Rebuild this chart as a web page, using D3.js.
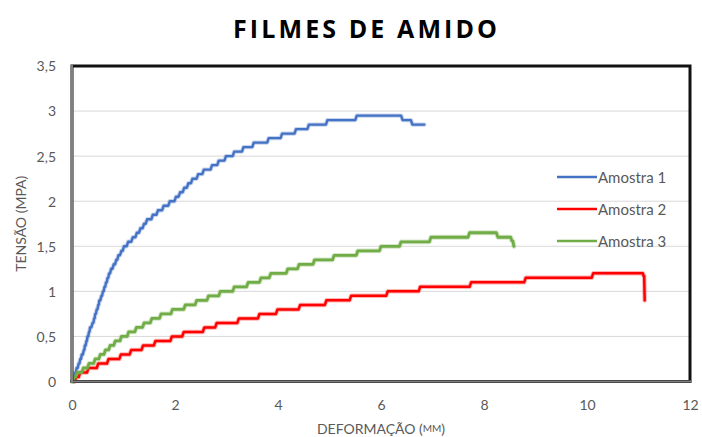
<!DOCTYPE html>
<html>
<head>
<meta charset="utf-8">
<script src="https://cdn.jsdelivr.net/npm/d3@7"></script>
<style>
  html, body { margin: 0; padding: 0; background: #ffffff; }
  svg { display: block; }
</style>
</head>
<body>
<svg id="chart" width="702" height="437"></svg>
<script>
// ---------------- DATA ----------------
const chartTitle = "FILMES DE AMIDO";
const xAxisTitleMain = "DEFORMAÇÃO (";
const xAxisTitleUnit = "MM";
const yAxisTitle = "TENSÃO (MPA)";

const xTicks = [0, 2, 4, 6, 8, 10, 12];
const xTickLabels = ["0", "2", "4", "6", "8", "10", "12"];
const yTicks = [0, 0.5, 1, 1.5, 2, 2.5, 3, 3.5];
const yTickLabels = ["0", "0,5", "1", "1,5", "2", "2,5", "3", "3,5"];

const seriesNames = ["Amostra 1", "Amostra 2", "Amostra 3"];
const seriesColors = ["#4472C4", "#FF0000", "#70AD47"];

// Amostra 1 (blue): x where each stress level is reached
const amostra1X = [0.01,
  0.03, 0.06, 0.09, 0.13, 0.16, 0.19, 0.23, 0.25, 0.28, 0.30,
  0.33, 0.35, 0.40, 0.43, 0.45, 0.48, 0.51, 0.53, 0.57, 0.60,
  0.63, 0.66, 0.69, 0.72, 0.76, 0.81, 0.86, 0.90, 0.96, 1.01,
  1.09, 1.18, 1.26, 1.33, 1.40, 1.46, 1.57, 1.67, 1.78, 1.90,
  2.02, 2.10, 2.18, 2.26, 2.34, 2.45, 2.56, 2.72, 2.85, 2.99,
  3.15, 3.33, 3.53, 3.82, 4.08, 4.35, 4.60, 4.96, 5.53,
  6.42, 6.61, 6.84];
const amostra1Y = [0,
  0.05, 0.10, 0.15, 0.20, 0.25, 0.30, 0.35, 0.40, 0.45, 0.50,
  0.55, 0.60, 0.65, 0.70, 0.75, 0.80, 0.85, 0.90, 0.95, 1.00,
  1.05, 1.10, 1.15, 1.20, 1.25, 1.30, 1.35, 1.40, 1.45, 1.50,
  1.55, 1.60, 1.65, 1.70, 1.75, 1.80, 1.85, 1.90, 1.95, 2.00,
  2.05, 2.10, 2.15, 2.20, 2.25, 2.30, 2.35, 2.40, 2.45, 2.50,
  2.55, 2.60, 2.65, 2.70, 2.75, 2.80, 2.85, 2.90, 2.95,
  2.90, 2.85, 2.85];

// Amostra 2 (red)
const amostra2X = [0.04, 0.08,
  0.16, 0.32, 0.51, 0.71, 0.95, 1.15, 1.38, 1.62, 1.94, 2.17,
  2.57, 2.81, 3.24, 3.64, 3.99, 4.43, 4.94, 5.42, 6.13, 6.76,
  7.75, 8.81, 10.12,
  11.07, 11.10, 11.12];
const amostra2Y = [0, 0.05,
  0.10, 0.15, 0.20, 0.25, 0.30, 0.35, 0.40, 0.45, 0.50, 0.55,
  0.60, 0.65, 0.70, 0.75, 0.80, 0.85, 0.90, 0.95, 1.00, 1.05,
  1.10, 1.15, 1.20,
  1.20, 1.17, 0.90];

// Amostra 3 (green)
const amostra3X = [0,
  0.04, 0.10, 0.22, 0.33, 0.45, 0.55, 0.65, 0.74, 0.84, 0.96,
  1.10, 1.25, 1.40, 1.55, 1.73, 1.95, 2.20, 2.42, 2.65, 2.88,
  3.15, 3.42, 3.67, 3.86, 4.19, 4.41, 4.71, 5.09, 5.55, 6.00,
  6.39, 6.97, 7.72,
  8.27, 8.50, 8.54, 8.58];
const amostra3Y = [0,
  0.05, 0.10, 0.15, 0.20, 0.25, 0.30, 0.35, 0.40, 0.45, 0.50,
  0.55, 0.60, 0.65, 0.70, 0.75, 0.80, 0.85, 0.90, 0.95, 1.00,
  1.05, 1.10, 1.15, 1.20, 1.25, 1.30, 1.35, 1.40, 1.45, 1.50,
  1.55, 1.60, 1.65,
  1.60, 1.60, 1.56, 1.50];

const seriesX = [amostra1X, amostra2X, amostra3X];
const seriesY = [amostra1Y, amostra2Y, amostra3Y];

// ---------------- LAYOUT ----------------
const W = 702, H = 437;
const plot = { left: 72, right: 690, top: 66, bottom: 381.5 };
const textGray = "#595959";
const labelFont = "Lato, 'Open Sans', sans-serif";

const svg = d3.select("#chart");
svg.append("rect").attr("width", W).attr("height", H).attr("fill", "#fff");

const x = d3.scaleLinear().domain([0, 12]).range([plot.left, plot.right]);
const y = d3.scaleLinear().domain([0, 3.5]).range([plot.bottom, plot.top]);

// Gridlines
svg.append("g").selectAll("line")
  .data(yTicks.filter(v => v > 0 && v < 3.5))
  .join("line")
  .attr("x1", plot.left).attr("x2", plot.right)
  .attr("y1", d => y(d)).attr("y2", d => y(d))
  .attr("stroke", "#d9d9d9").attr("stroke-width", 1);

// Series as step lines (each level reached via a short rise)
function stepPoints(xs, ys) {
  const pts = [[xs[0], ys[0]]];
  for (let i = 1; i < xs.length; i++) {
    const r = Math.min(0.03, (xs[i] - xs[i - 1]) / 2);
    pts.push([xs[i] - r, ys[i - 1]]);
    pts.push([xs[i], ys[i]]);
  }
  return pts;
}
const line = d3.line().x(d => x(d[0])).y(d => y(d[1]));

const seriesWidths = [2.4, 2.5, 2.8];
const gSeries = svg.append("g");
seriesNames.forEach((name, i) => {
  const pts = stepPoints(seriesX[i], seriesY[i]);
  gSeries.append("path").attr("d", line(pts))
    .attr("fill", "none").attr("stroke", seriesColors[i])
    .attr("stroke-opacity", 0.3).attr("stroke-width", seriesWidths[i] + 2)
    .attr("stroke-linejoin", "round").attr("stroke-linecap", "round");
  gSeries.append("path").attr("d", line(pts))
    .attr("fill", "none").attr("stroke", seriesColors[i])
    .attr("stroke-width", seriesWidths[i])
    .attr("stroke-linejoin", "round").attr("stroke-linecap", "round");
});

// Plot area border (black) + axis lines (gray) on left and bottom
svg.append("rect")
  .attr("x", plot.left).attr("y", plot.top)
  .attr("width", plot.right - plot.left).attr("height", plot.bottom - plot.top)
  .attr("fill", "none").attr("stroke", "#111").attr("stroke-width", 3);
svg.append("line")
  .attr("x1", plot.left).attr("x2", plot.right + 1.5)
  .attr("y1", plot.bottom).attr("y2", plot.bottom)
  .attr("stroke", "#808080").attr("stroke-width", 2);
svg.append("line")
  .attr("x1", plot.left).attr("x2", plot.left)
  .attr("y1", plot.top - 1.5).attr("y2", plot.bottom + 1.5)
  .attr("stroke", "#808080").attr("stroke-width", 2);

// Axes (labels only)
const xAxis = d3.axisBottom(x).tickValues(xTicks)
  .tickFormat((d, i) => xTickLabels[i]).tickSize(0).tickPadding(0);
const gx = svg.append("g").attr("transform", `translate(0,${plot.bottom})`).call(xAxis);
gx.select(".domain").remove();
gx.selectAll("text").attr("y", 405 - plot.bottom).attr("dy", "0.35em")
  .attr("fill", textGray).style("font-family", labelFont).style("font-size", "14px");

const yAxis = d3.axisLeft(y).tickValues(yTicks)
  .tickFormat((d, i) => yTickLabels[i]).tickSize(0).tickPadding(16);
const gy = svg.append("g").attr("transform", `translate(${plot.left},0)`).call(yAxis);
gy.select(".domain").remove();
gy.selectAll("text").attr("dy", "0.35em")
  .attr("fill", textGray).style("font-family", labelFont).style("font-size", "14px");

// Title
const title = svg.append("text")
  .attr("x", 365).attr("y", 28).attr("text-anchor", "middle")
  .attr("dominant-baseline", "central")
  .style("font-family", "'Open Sans', sans-serif").style("font-weight", 700)
  .style("font-size", "25px").attr("fill", "#000")
  .text(chartTitle);
{
  const target = 264;
  const len = title.node().getComputedTextLength();
  const ls = (target - len) / (chartTitle.length - 1);
  title.style("letter-spacing", ls + "px").attr("x", 365 + ls / 2);
}

// Axis titles
const xt = svg.append("text")
  .attr("x", (plot.left + plot.right) / 2).attr("y", 428)
  .attr("text-anchor", "middle").attr("dominant-baseline", "central")
  .attr("fill", textGray).style("font-family", labelFont).style("font-size", "14px");
xt.append("tspan").text(xAxisTitleMain);
xt.append("tspan").style("font-size", "10px").text(xAxisTitleUnit);
xt.append("tspan").text(")");

svg.append("text")
  .attr("transform", `translate(20,${(plot.top + plot.bottom) / 2}) rotate(-90)`)
  .attr("text-anchor", "middle").attr("dominant-baseline", "central")
  .attr("fill", textGray).style("font-family", labelFont).style("font-size", "14px")
  .text(yAxisTitle);

// Legend
const legendY = [177, 209, 241];
const legend = svg.append("g");
seriesNames.forEach((name, i) => {
  legend.append("line")
    .attr("x1", 557).attr("x2", 597).attr("y1", legendY[i]).attr("y2", legendY[i])
    .attr("stroke", seriesColors[i]).attr("stroke-width", 2.6);
  legend.append("text")
    .attr("x", 598).attr("y", legendY[i]).attr("dominant-baseline", "central")
    .attr("fill", textGray).style("font-family", labelFont).style("font-size", "15px")
    .text(name);
});
</script>
</body>
</html>
